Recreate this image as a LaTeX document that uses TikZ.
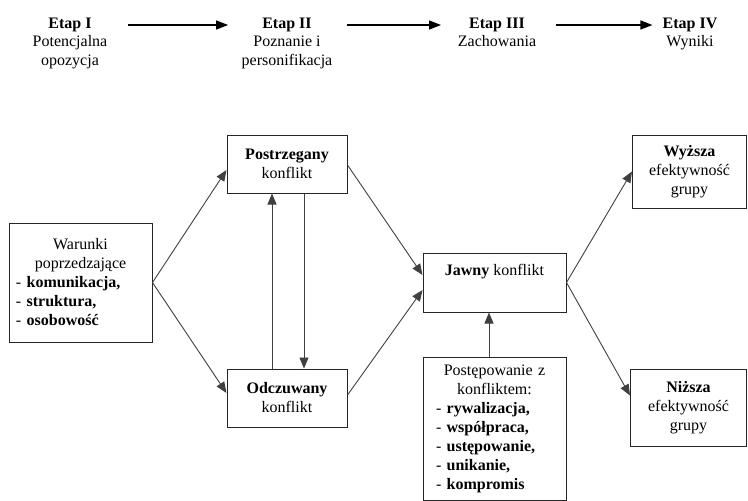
\documentclass[tikz,border=0pt]{standalone}
\usepackage{fontspec}
\setmainfont{Liberation Serif}
\usetikzlibrary{arrows.meta,positioning}
\tikzset{every node/.style={font=\fontsize{16}{19}\selectfont,inner sep=0pt},
  box/.style={draw=black!85,line width=1pt,align=center},
  listbox/.style={box,align=left},
  link/.style={draw=black!75,line width=0.9pt,-{Triangle[length=11pt,width=9pt]}},
  stageflow/.style={draw=black,line width=1.3pt,-{Triangle[length=12pt,width=9pt]}}}

\begin{document}
\begin{tikzpicture}[x=1pt,y=-1pt]
    \useasboundingbox (0,0) rectangle (748,501);
    % etapy
    \node (etapI) at (70,25) {\textbf{Etap I}};
    \node (etapII) at (287,25) {\textbf{Etap II}};
    \node (etapIII) at (497,25) {\textbf{Etap III}};
    \node (etapIV) at (690,25) {\textbf{Etap IV}};
    \node[align=center] (opisI) [below=3.5pt of etapI] {Potencjalna\\opozycja};
    \node[align=center] (opisII) [below=3.5pt of etapII] {Poznanie i\\personifikacja};
    \node[align=center] (opisIII) [below=3.5pt of etapIII] {Zachowania};
    \node[align=center] (opisIV) [below=3.5pt of etapIV] {Wyniki};
    \draw[stageflow] ([xshift=36pt]etapI.east) -- ([xshift=-34pt]etapII.west);
    \draw[stageflow] ([xshift=35pt]etapII.east) -- ([xshift=-28pt]etapIII.west);
    \draw[stageflow] ([xshift=31pt]etapIII.east) -- ([xshift=-10pt]etapIV.west);
    % schemat
    \node[listbox,minimum width=143pt,minimum height=119pt,text width=129pt,inner xsep=7pt] (warunki) at (80.5,282.5)
      {\centering Warunki\\poprzedzające\par\raggedright
       - \textbf{komunikacja,}\\- \textbf{struktura,}\\- \textbf{osobowość}};
    \node[box,minimum width=120pt,minimum height=58pt] (postrz) at (287,164) {\textbf{Postrzegany}\\konflikt};
    \node[box,minimum width=120pt,minimum height=58pt] (odcz) at (287,398) {\textbf{Odczuwany}\\konflikt};
    \node[box,minimum width=143pt,minimum height=59pt] (jawny) at (494.5,282.5) {\textbf{Jawny} konflikt\\\strut};
    \node[listbox,minimum width=143pt,minimum height=143pt,text width=117pt,inner xsep=13pt] (postep) at (494.5,428.5)
      {\centering Postępowanie z\\konfliktem:\par\raggedright
       - \textbf{rywalizacja,}\\- \textbf{współpraca,}\\- \textbf{ustępowanie,}\\- \textbf{unikanie,}\\- \textbf{kompromis}};
    \node[box,minimum width=114pt,minimum height=73pt] (wyzsza) at (689.5,171.5) {\textbf{Wyższa}\\efektywność\\grupy};
    \node[box,minimum width=116pt,minimum height=77pt] (nizsza) at (688.5,407.5) {\textbf{Niższa}\\efektywność\\grupy};
    % powiazania
    \draw[link] (warunki.east) -- ([yshift=-6pt]postrz.west);
    \draw[link] (warunki.east) -- ([yshift=5pt]odcz.west);
    \draw[link] ([xshift=17pt]postrz.south) -- ([xshift=17pt]odcz.north);
    \draw[link] ([xshift=-15pt]odcz.north) -- ([xshift=-15pt]postrz.south);
    \draw[link] ([yshift=-1pt]postrz.east) -- ([yshift=7.5pt]jawny.west);
    \draw[link] ([yshift=3pt]odcz.east) -- ([yshift=-7.5pt]jawny.west);
    \draw[link] ([xshift=-5.5pt]postep.north) -- ([xshift=-5.5pt]jawny.south);
    \draw[link] (jawny.east) -- (wyzsza.west);
    \draw[link] (jawny.east) -- ([yshift=12pt]nizsza.west);
\end{tikzpicture}
\end{document}
